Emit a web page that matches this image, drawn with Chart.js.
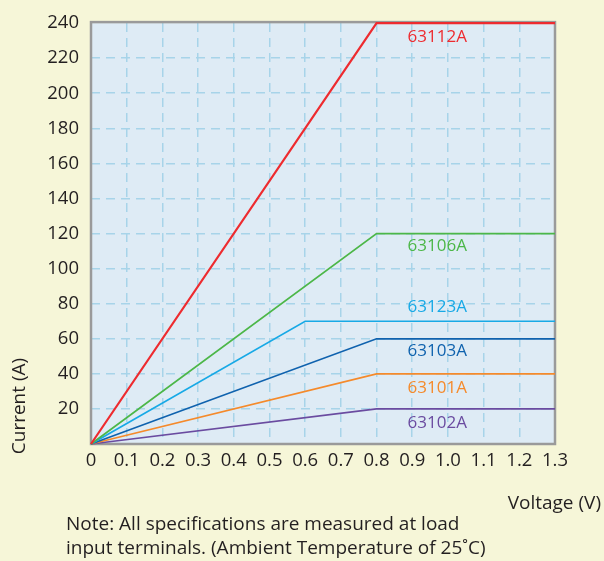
<!DOCTYPE html>
<html>
<head>
<meta charset="utf-8">
<script src="https://cdn.jsdelivr.net/npm/chart.js@4/dist/chart.umd.min.js"></script>
<style>
  html, body { margin: 0; padding: 0; background: #f6f6d8; }
  #wrap { width: 604px; height: 561px; position: relative; }
</style>
</head>
<body>
<div id="wrap"><canvas id="chart" width="604" height="561"></canvas></div>
<script>
// Model names and their curve shape (knee voltage, max current)
const models = ['63112A', '63106A', '63123A', '63103A', '63101A', '63102A'];
const kneeVoltage = [0.8, 0.8, 0.6, 0.8, 0.8, 0.8];
const maxCurrent = [240, 120, 70, 60, 40, 20];
const endVoltage = 1.3;
const colors = ['#ee2b2f', '#4cb748', '#17a9e6', '#0f62ae', '#f58a2b', '#6a4ba0'];

// where the model names sit (in data units)
const labelX = [0.97, 0.97, 0.97, 0.97, 0.97, 0.97];
const labelY = [232, 113, 78, 53, 32, 12];

const yTicks = [20, 40, 60, 80, 100, 120, 140, 160, 180, 200, 220, 240];
const xTicks = ['0', '0.1', '0.2', '0.3', '0.4', '0.5', '0.6', '0.7', '0.8', '0.9', '1.0', '1.1', '1.2', '1.3'];

const FONT = '"Open Sans", "Noto Sans", sans-serif';
const TEXT = '#231f20';

const datasets = models.map((name, i) => ({
  label: name,
  data: [
    { x: 0, y: 0 },
    { x: kneeVoltage[i], y: maxCurrent[i] },
    { x: endVoltage, y: maxCurrent[i] }
  ],
  borderColor: colors[i],
  borderWidth: i === 0 ? 2.2 : 1.7,
  pointRadius: 0,
  tension: 0,
  clip: false
}));

// plot background and frame (frame under the lines so the red top line shows)
const plotFrame = {
  id: 'plotFrame',
  beforeDraw(chart) {
    const { ctx, chartArea: a } = chart;
    ctx.save();
    ctx.fillStyle = '#deebf5';
    ctx.fillRect(a.left, a.top, a.right - a.left, a.bottom - a.top);
    ctx.restore();
  },
  beforeDatasetsDraw(chart) {
    const { ctx, chartArea: a } = chart;
    ctx.save();
    ctx.strokeStyle = '#9a9a9a';
    ctx.lineWidth = 2.5;
    ctx.strokeRect(a.left, a.top - 1, a.right - a.left, a.bottom - a.top + 1);
    ctx.restore();
  }
};

// model names, axis titles and the note
const textPlugin = {
  id: 'textPlugin',
  afterDraw(chart) {
    const { ctx, scales } = chart;
    ctx.save();
    ctx.font = '17px ' + FONT;
    ctx.textAlign = 'center';
    ctx.textBaseline = 'middle';
    models.forEach((name, i) => {
      ctx.fillStyle = colors[i];
      ctx.fillText(name, scales.x.getPixelForValue(labelX[i]), scales.y.getPixelForValue(labelY[i]));
    });

    ctx.fillStyle = TEXT;
    ctx.font = '19px ' + FONT;
    ctx.save();
    ctx.translate(20, 406);
    ctx.rotate(-Math.PI / 2);
    ctx.fillText('Current (A)', 0, 0);
    ctx.restore();

    ctx.textAlign = 'right';
    ctx.fillText('Voltage (V)', 601, 504);

    ctx.textAlign = 'left';
    ctx.fillText('Note: All specifications are measured at load', 66, 525);
    ctx.fillText('input terminals. (Ambient Temperature of 25\u02DAC)', 66, 549);
    ctx.restore();
  }
};

new Chart(document.getElementById('chart'), {
  type: 'line',
  data: { datasets },
  options: {
    responsive: false,
    animation: false,
    layout: { padding: { left: 0, top: 18, right: 49, bottom: 0 } },
    plugins: { legend: { display: false }, tooltip: { enabled: false } },
    scales: {
      x: {
        type: 'linear',
        min: 0,
        max: endVoltage,
        afterFit: s => { s.height = 117; },
        afterBuildTicks: s => { s.ticks = xTicks.map(t => ({ value: parseFloat(t) })); },
        ticks: {
          callback: (v, i) => xTicks[i],
          color: TEXT,
          font: { family: FONT, size: 18.5 },
          padding: 6,
          maxRotation: 0,
          autoSkip: false
        },
        grid: {
          color: ctx => (ctx.index === 0 || ctx.index === xTicks.length - 1) ? 'rgba(0,0,0,0)' : '#a7d4e9',
          lineWidth: 1.5,
          drawTicks: false
        },
        border: { display: false, dash: [9, 6] }
      },
      y: {
        min: 0,
        max: 240,
        afterFit: s => { s.width = 91; },
        afterBuildTicks: s => { s.ticks = [0].concat(yTicks).map(v => ({ value: v })); },
        ticks: {
          callback: v => (yTicks.includes(v) ? String(v) : ''),
          color: TEXT,
          font: { family: FONT, size: 18.5 },
          padding: 12
        },
        grid: {
          color: ctx => (ctx.tick && (ctx.tick.value === 0 || ctx.tick.value === 240)) ? 'rgba(0,0,0,0)' : '#a7d4e9',
          lineWidth: 1.5,
          drawTicks: false
        },
        border: { display: false, dash: [9, 6] }
      }
    }
  },
  plugins: [plotFrame, textPlugin]
});
</script>
</body>
</html>
